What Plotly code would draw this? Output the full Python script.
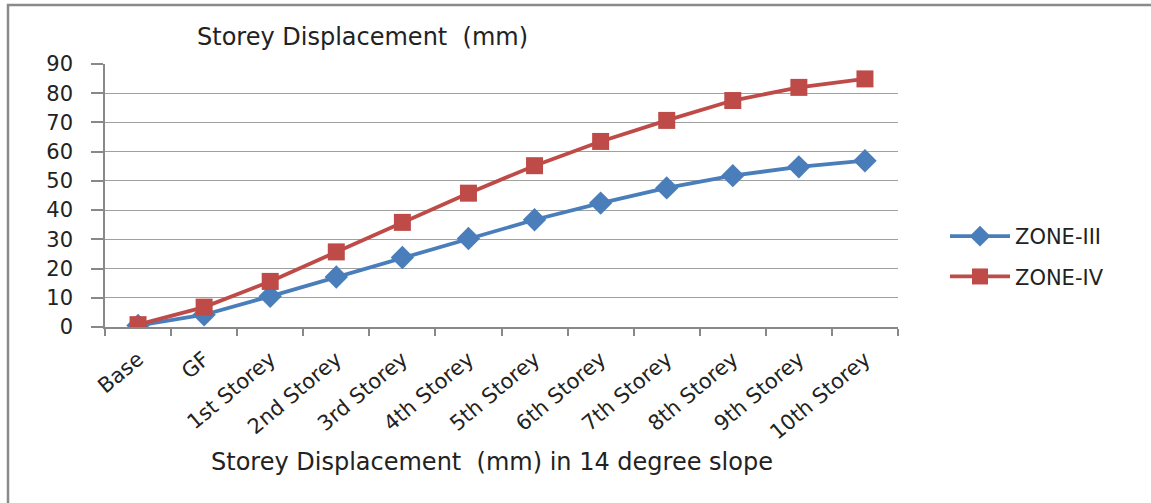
import plotly.graph_objects as go

categories = ["Base", "GF", "1st Storey", "2nd Storey", "3rd Storey", "4th Storey",
              "5th Storey", "6th Storey", "7th Storey", "8th Storey", "9th Storey", "10th Storey"]
zone_iii = [0.5, 4.2, 10.5, 17.1, 23.8, 30.3, 36.7, 42.4, 47.6, 51.8, 54.8, 56.9]
zone_iv = [0.8, 6.8, 15.6, 25.7, 35.8, 45.8, 55.2, 63.5, 70.7, 77.5, 82.0, 84.9]
y_ticks = [0, 10, 20, 30, 40, 50, 60, 70, 80, 90]

FONT = "DejaVu Sans"
W, H = 1151, 503
L, R, T, B = 105, 253, 64, 176
pw = W - L - R
ph = H - T - B

def px_x(p):
    return (p - L) / pw

def px_y(p):
    return (H - B - p) / ph

fig = go.Figure()
fig.add_trace(go.Scatter(
    x=categories, y=zone_iii, name="ZONE-III", mode="lines+markers",
    line=dict(color="#4A7EBB", width=3.8),
    marker=dict(symbol="diamond", size=18, color="#4A7EBB"),
    legendgroup="a"))
fig.add_trace(go.Scatter(
    x=categories, y=zone_iv, name="ZONE-IV", mode="lines+markers",
    line=dict(color="#BE4B48", width=3.8),
    marker=dict(symbol="square", size=17, color="#BE4B48"),
    legendgroup="b"))

fig.update_layout(
    width=W, height=H,
    margin=dict(l=L, r=R, t=T, b=B),
    paper_bgcolor="white", plot_bgcolor="white",
    font=dict(family=FONT, size=20, color="#222222"),
    showlegend=True,
    legend=dict(x=px_x(945), y=px_y(216), xanchor="left", yanchor="top",
                font=dict(family=FONT, size=21, color="#222222"),
                itemwidth=60,
                tracegroupgap=10, bgcolor="rgba(0,0,0,0)"),
    xaxis=dict(type="category", showgrid=False, showline=True, linecolor="#888888",
               linewidth=1.5, ticks="outside", tickson="boundaries", ticklen=7,
               tickcolor="#888888", tickwidth=1.5, tickangle=-40,
               ticklabelstandoff=10,
               tickfont=dict(family=FONT, size=21, color="#222222"),
               range=[-0.5, len(categories) - 0.5]),
    yaxis=dict(range=[0, 90], tickvals=y_ticks, showgrid=True, gridcolor="#A0A0A0",
               gridwidth=1.3, showline=True, linecolor="#888888", linewidth=1.5,
               ticks="outside", ticklen=12, tickcolor="#888888", tickwidth=1.5,
               ticklabelstandoff=14,
               zeroline=False, tickfont=dict(family=FONT, size=21, color="#222222")),
    annotations=[
        dict(text="Storey Displacement  (mm)", xref="paper", yref="paper",
             x=px_x(362), y=px_y(37), xanchor="center", yanchor="middle",
             showarrow=False, font=dict(family=FONT, size=24, color="#222222")),
        dict(text="Storey Displacement  (mm) in 14 degree slope", xref="paper", yref="paper",
             x=px_x(492), y=px_y(462), xanchor="center", yanchor="middle",
             showarrow=False, font=dict(family=FONT, size=24, color="#222222")),
    ],
    shapes=[
        dict(type="line", xref="paper", yref="paper", x0=px_x(8), x1=px_x(8),
             y0=px_y(4), y1=px_y(503), line=dict(color="#8a8a8a", width=2.5)),
        dict(type="line", xref="paper", yref="paper", x0=px_x(7), x1=px_x(1151),
             y0=px_y(5), y1=px_y(5), line=dict(color="#8a8a8a", width=2.5)),
    ],
)

fig.write_html("out.html", config={"displayModeBar": False},
               post_script="document.body.style.margin='0px';document.body.style.overflow='hidden';")
